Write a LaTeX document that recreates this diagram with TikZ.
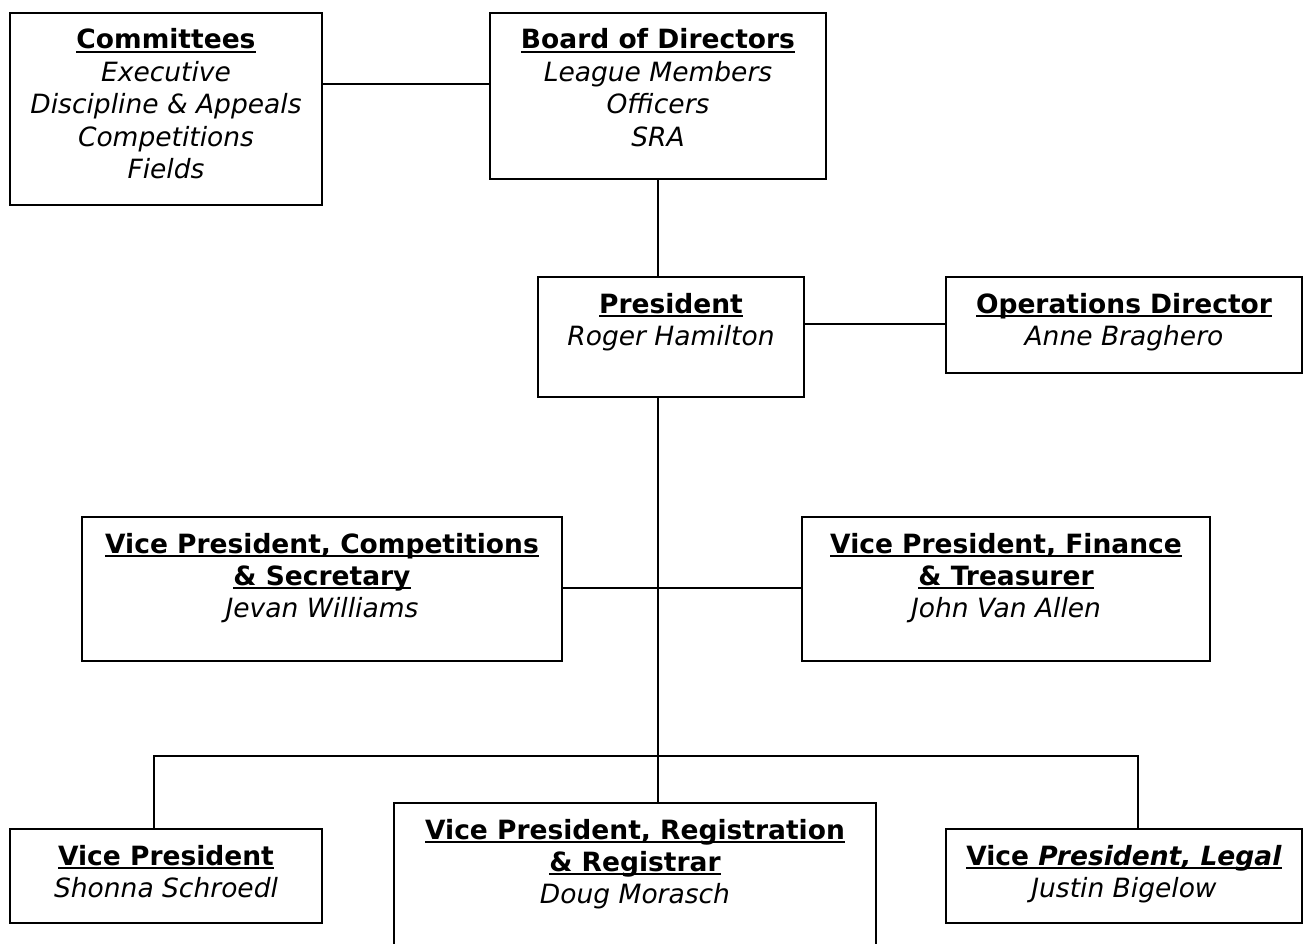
\documentclass[tikz,border=0pt]{standalone}
\usepackage{fontspec}
\usepackage{graphicx}
\setmainfont{DejaVu Sans}
\newcommand\ulh[1]{\setbox0=\hbox{\bfseries #1}\rlap{\rule[-4pt]{\wd0}{2pt}}\box0}
\tikzset{
  orgbox/.style={draw, line width=2pt, inner sep=0pt, anchor=north, align=center,
    font=\fontsize{26.5}{32.4}\selectfont},
  conn/.style={line width=2pt},
}
\begin{document}
\begin{tikzpicture}[x=1pt,y=1pt]
\useasboundingbox (0,0) rectangle (1303,-944);
% boxes (text height = distance from top to last baseline)
\node[orgbox, minimum width=312pt, text height=165.6pt, text depth=26.4pt] (comm) at (166,-12)
  {\ulh{Committees}\\ \textit{Executive}\\ \textit{Discipline \& Appeals}\\ \textit{Competitions}\\ \textit{Fields}};
\node[orgbox, minimum width=336pt, text height=133.2pt, text depth=32.8pt] (board) at (658,-12)
  {\ulh{Board of Directors}\\ \textit{League Members}\\ \textit{Officers}\\ \textit{SRA}};
\node[orgbox, minimum width=266pt, text height=68.4pt, text depth=51.6pt] (pres) at (671,-276)
  {\ulh{President}\\ \textit{Roger Hamilton}};
\node[orgbox, minimum width=356pt, text height=68.4pt, text depth=27.6pt] (ops) at (1124,-276)
  {\ulh{Operations Director}\\ \textit{Anne Braghero}};
\node[orgbox, minimum width=480pt, text height=100.8pt, text depth=43.2pt] (vpc) at (322,-516)
  {\ulh{Vice President, Competitions}\\ \ulh{\& Secretary}\\ \textit{Jevan Williams}};
\node[orgbox, minimum width=408pt, text height=100.8pt, text depth=43.2pt] (vpf) at (1006,-516)
  {\ulh{Vice President, Finance}\\ \ulh{\& Treasurer}\\ \textit{John Van Allen}};
\node[orgbox, minimum width=312pt, text height=68.4pt, text depth=25.6pt] (vps) at (166,-828)
  {\ulh{Vice President}\\ \textit{Shonna Schroedl}};
\node[orgbox, minimum width=482pt, text height=100.8pt, text depth=57.2pt] (vpr) at (635,-802)
  {\ulh{Vice President, Registration}\\ \ulh{\& Registrar}\\ \textit{Doug Morasch}};
\node[orgbox, minimum width=356pt, text height=68.4pt, text depth=25.6pt] (vpl) at (1124,-828)
  {\ulh{Vice \textit{President, Legal}}\\ \textit{Justin Bigelow}};
% connectors
\draw[conn] (comm.north east) ++(0,-72) coordinate (c1) -- (c1 -| board.west);
\draw[conn] (board.south) -- (board.south |- pres.north);
\draw[conn] (pres.north east) ++(0,-48) coordinate (c2) -- (c2 -| ops.west);
\draw[conn] (board.south |- pres.south) -- (board.south |- vpr.north);
\draw[conn] (vpc.north east) ++(0,-72) coordinate (c3) -- (c3 -| vpf.west);
\coordinate (busL) at (154,-756);
\coordinate (busR) at (1138,-756);
\draw[conn] (vps.north -| busL) -- (busL) -- (busR) -- (vpl.north -| busR);
\end{tikzpicture}
\end{document}
